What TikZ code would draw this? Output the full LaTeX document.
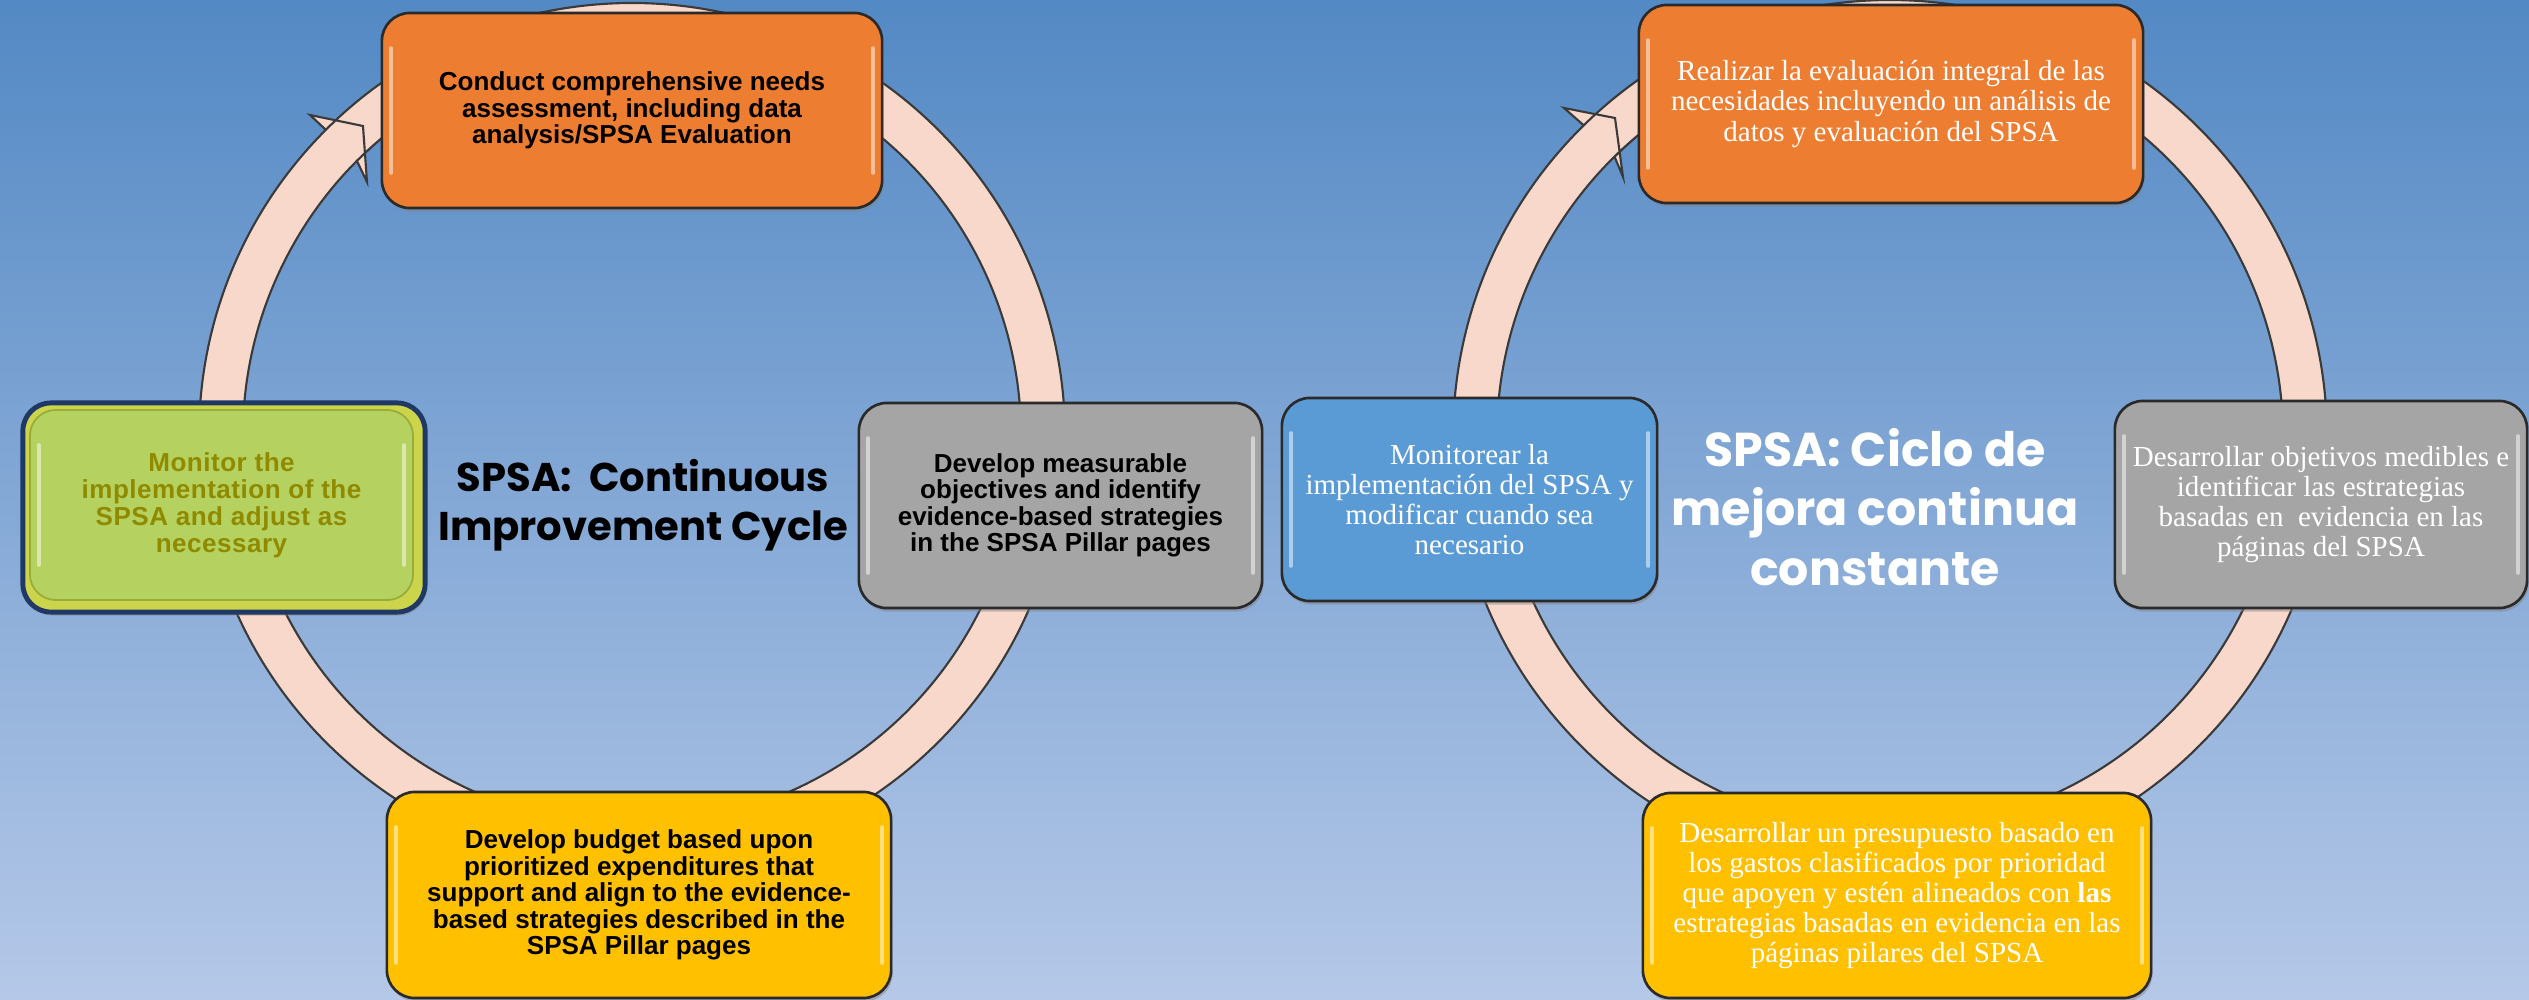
\documentclass[tikz,border=0pt]{standalone}
\usepackage{fontspec}
\usetikzlibrary{calc,shadows}
\newfontfamily\arialf{Liberation Sans}
\newfontfamily\timesf{Liberation Serif}
\newfontfamily\popf{Poppins}
\definecolor{bgtop}{HTML}{5389C4}
\definecolor{bgbot}{HTML}{B5C8E8}
\definecolor{ringfill}{HTML}{F8D8CB}
\definecolor{ringline}{HTML}{3A3A3A}
\definecolor{boxline}{HTML}{2A2A2A}
\definecolor{orangebox}{HTML}{ED7D31}
\definecolor{graybox}{HTML}{A5A5A5}
\definecolor{yellowbox}{HTML}{FFC000}
\definecolor{bluebox}{HTML}{5B9BD5}
\definecolor{greenbox}{HTML}{B5D160}
\definecolor{greenback}{HTML}{CCD44C}
\definecolor{greenline}{HTML}{98AC3C}
\definecolor{navyline}{HTML}{1F3864}
\definecolor{olivetext}{HTML}{8F8A00}
\begin{document}
\begin{tikzpicture}[x=0.01cm,y=0.01cm,
  ring/.style={fill=ringfill, draw=ringline, line width=0.6pt, line join=miter},
  gloss/.style={path picture={
     \draw[white, opacity=0.5, line width=0.035cm, line cap=round]
       ([xshift=0.09cm,yshift=-0.35cm]path picture bounding box.north west) --
       ([xshift=0.09cm,yshift=0.35cm]path picture bounding box.south west)
       ([xshift=-0.09cm,yshift=-0.35cm]path picture bounding box.north east) --
       ([xshift=-0.09cm,yshift=0.35cm]path picture bounding box.south east);}},
  box/.style={draw=boxline, line width=0.75pt, rounded corners=0.28cm,
     align=center, inner sep=0pt,
     drop shadow={shadow xshift=0.015cm, shadow yshift=-0.035cm, opacity=0.45},
     gloss},
  entext/.style={font=\arialf\bfseries\fontsize{7.4pt}{7.5pt}\selectfont, text=black},
  estext/.style={font=\timesf\fontsize{8.25pt}{8.55pt}\selectfont, text=white},
]
\useasboundingbox (0,0) rectangle (2529,-1000);
\shade[top color=bgtop, bottom color=bgbot] (0,0) rectangle (2529,-1000);

% ---------------- left cycle ----------------
\coordinate (cL) at (632,-436);
\draw[ring] ($(cL)+(135:433)$) arc[start angle=135, end angle=-298, radius=433]
  -- ($(cL)+(-298:389)$) arc[start angle=-298, end angle=135, radius=389]
  -- (367,-182) -- (363,-126) -- (310,-115) -- cycle;

\node[box, fill=orangebox, minimum width=5cm, minimum height=1.95cm, entext]
  (Lorange) at (632,-110.5)
  {Conduct comprehensive needs\\assessment, including data\\analysis/SPSA Evaluation};

\node[box, fill=graybox, minimum width=4.03cm, minimum height=2.05cm, entext]
  (Lgray) at (1060.5,-505.5)
  {Develop measurable\\objectives and identify\\evidence-based strategies\\in the SPSA Pillar pages};

\node[box, fill=yellowbox, minimum width=5.04cm, minimum height=2.06cm, entext]
  (Lyellow) at (639,-895)
  {Develop budget based upon\\prioritized expenditures that\\support and align to the evidence-\\based strategies described in the\\SPSA Pillar pages};

\node[draw=navyline, line width=1.4pt, fill=greenback, rounded corners=0.28cm,
  minimum width=4.02cm, minimum height=2.09cm, inner sep=0pt,
  drop shadow={shadow xshift=0.015cm, shadow yshift=-0.035cm, opacity=0.45}]
  (Lgreenback) at (224,-507.5) {};
\node[draw=greenline, line width=0.5pt, fill=greenbox, rounded corners=0.26cm,
  minimum width=3.83cm, minimum height=1.9cm, inner sep=0pt, align=center, gloss,
  font=\arialf\bfseries\fontsize{7.4pt}{7.7pt}\selectfont\addfontfeature{LetterSpace=2},
  text=olivetext]
  (Lgreen) at (221.5,-505)
  {Monitor the\\implementation of the\\SPSA and adjust as\\necessary};

\node[align=center, font=\popf\bfseries\fontsize{11.4pt}{14pt}\selectfont, text=black]
  (Ltitle) at (643,-505) {SPSA:\ \ Continuous\\Improvement Cycle};

% ---------------- right cycle ----------------
\coordinate (cR) at (1890,-437);
\draw[ring] ($(cR)+(134.5:437)$) arc[start angle=134.5, end angle=-298, radius=437]
  -- ($(cR)+(-298:393)$) arc[start angle=-298, end angle=134.5, radius=393]
  -- (1623,-177) -- (1615,-118) -- (1564,-108) -- cycle;

\node[box, fill=orangebox, minimum width=5.04cm, minimum height=1.98cm, estext]
  (Rorange) at (1891,-104)
  {Realizar la evaluación integral de las\\necesidades incluyendo un análisis de\\datos y evaluación del SPSA};

\node[box, fill=bluebox, minimum width=3.75cm, minimum height=2.03cm, estext]
  (Rblue) at (1469.5,-499.5)
  {Monitorear la\\implementación del SPSA y\\modificar cuando sea\\necesario};

\node[box, fill=graybox, minimum width=4.12cm, minimum height=2.07cm, estext]
  (Rgray) at (2321,-504.5)
  {Desarrollar objetivos medibles e\\identificar las estrategias\\basadas en\ \ evidencia en las\\páginas del SPSA};

\node[box, fill=yellowbox, minimum width=5.08cm, minimum height=2.05cm, estext]
  (Ryellow) at (1897,-895.5)
  {Desarrollar un presupuesto basado en\\los gastos clasificados por prioridad\\que apoyen y estén alineados con \textbf{las}\\estrategias basadas en evidencia en las\\páginas pilares del SPSA};

\node[align=center, font=\popf\bfseries\fontsize{13.5pt}{17pt}\selectfont, text=white]
  (Rtitle) at (1875,-507) {SPSA: Ciclo de\\mejora continua\\constante};
\end{tikzpicture}
\end{document}
